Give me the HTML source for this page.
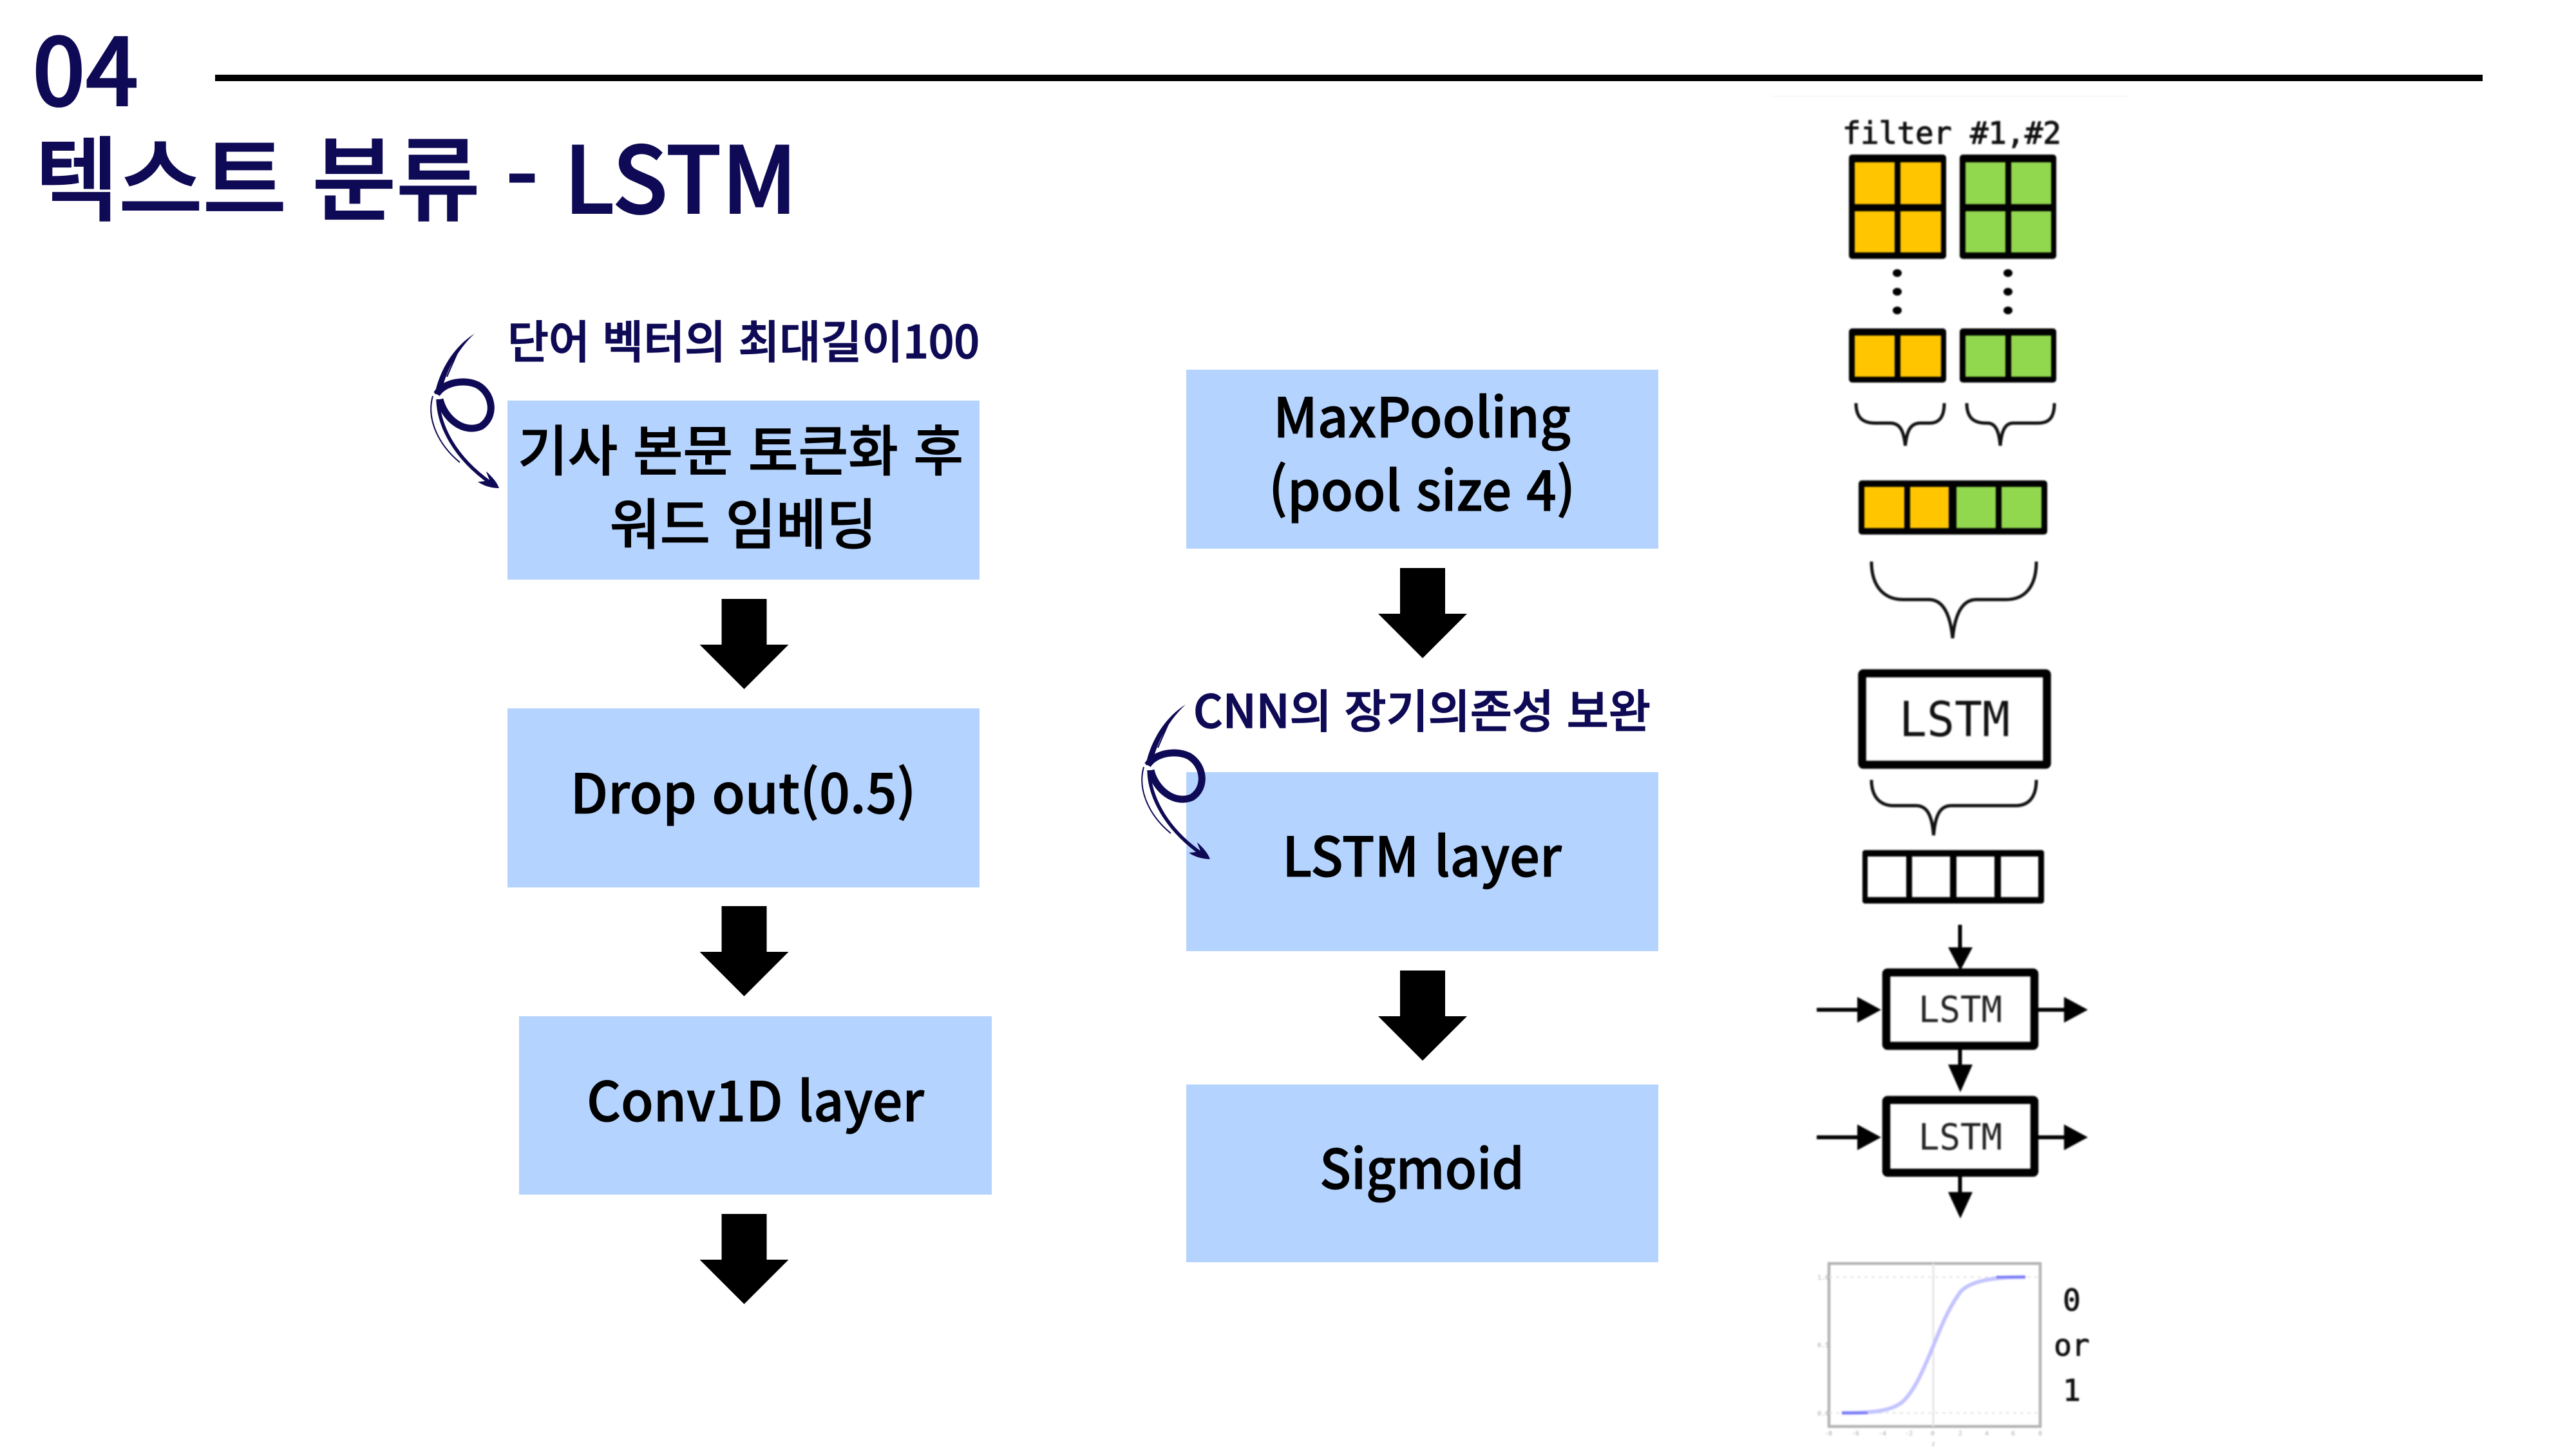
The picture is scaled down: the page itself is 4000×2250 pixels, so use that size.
<!DOCTYPE html>
<html lang="ko"><head><meta charset="utf-8"><style>
html,body{margin:0;padding:0;background:#fff}
svg{display:block;position:absolute;left:0;top:0}
.k{font-family:"Noto Sans CJK KR","Liberation Sans",sans-serif;font-weight:500}
.m{font-family:"DejaVu Sans Mono","Liberation Mono",monospace}
.n{fill:#0f0a55}
.t{stroke:#0f0a55;stroke-width:2px}
.a{stroke:#0f0a55;stroke-width:1.4px}
.b{font-size:85px;text-anchor:middle;fill:#000;stroke:#000;stroke-width:1px}
.y{fill:#ffc600}.g{fill:#92d84f}
.br{fill:none;stroke:#111;stroke-width:5}
</style></head><body style="width:4000px;height:2250px;overflow:hidden;position:relative">
<svg width="4000" height="2250" viewBox="0 0 4000 2250" xmlns="http://www.w3.org/2000/svg">
<defs>
<g id="curl">
<path class="n" d="M737,518C702,540 682,578 675,612L685,612C690,582 708,545 737,518Z"/>
<path d="M678,612C690,593 722,588 742,598C766,612 770,647 747,662C720,674 690,650 683,620" fill="none" stroke="#0f0a55" stroke-width="11"/>
<path d="M680,620C681,660 705,710 762,750" fill="none" stroke="#0f0a55" stroke-width="5.5"/>
<path d="M672,615C662,650 680,690 714,718M714,539C705,560 698,575 694,585" fill="none" stroke="#0f0a55" stroke-width="2"/>
<path class="n" d="M755,732C766,742 772,750 775,758C762,758 750,754 742,748C750,748 756,746 760,745C758,740 756,736 755,732Z"/>
</g>
<path id="da" d="M-35,0H35V71H69L0,140L-69,71H-35Z"/>
</defs>
<text class="k n t" x="50" y="164" font-size="145">04</text>
<rect x="334" y="116" width="3521" height="10" fill="#000"/>
<text class="k n t" x="54" y="331" font-size="143" textLength="1184" lengthAdjust="spacingAndGlyphs">텍스트 분류 - LSTM</text>

<g fill="#b4d3fe">
<rect x="788" y="622" width="733" height="278"/>
<rect x="788" y="1100" width="733" height="278"/>
<rect x="806" y="1578" width="734" height="277"/>
<rect x="1842" y="574" width="733" height="278"/>
<rect x="1842" y="1199" width="733" height="278"/>
<rect x="1842" y="1684" width="733" height="276"/>
</g>
<g class="k">
<text class="b" x="1150" y="731" textLength="692" lengthAdjust="spacingAndGlyphs">기사 본문 토큰화 후</text>
<text class="b" x="1154" y="845">워드 임베딩</text>
<text class="b" x="1154" y="1263" textLength="537" lengthAdjust="spacingAndGlyphs">Drop out(0.5)</text>
<text class="b" x="1173" y="1741" textLength="524" lengthAdjust="spacingAndGlyphs">Conv1D layer</text>
<text class="b" x="2208" y="679" textLength="462" lengthAdjust="spacingAndGlyphs">MaxPooling</text>
<text class="b" x="2208" y="793" textLength="476" lengthAdjust="spacingAndGlyphs">(pool size 4)</text>
<text class="b" x="2208" y="1361" textLength="434" lengthAdjust="spacingAndGlyphs">LSTM layer</text>
<text class="b" x="2208" y="1846" textLength="318" lengthAdjust="spacingAndGlyphs">Sigmoid</text>
<text class="n a" x="788" y="556" font-size="70" textLength="733" lengthAdjust="spacingAndGlyphs">단어 벡터의 최대길이100</text>
<text class="n a" x="1853" y="1130" font-size="71" textLength="710" lengthAdjust="spacingAndGlyphs">CNN의 장기의존성 보완</text>
</g>
<use href="#da" transform="translate(1155.5,930)"/>
<use href="#da" transform="translate(1155.5,1407)"/>
<use href="#da" transform="translate(1155.5,1885)"/>
<use href="#da" transform="translate(2209,882)"/>
<use href="#da" transform="translate(2209,1507)"/>
<use href="#curl"/>
<use href="#curl" transform="translate(1104,576)"/>

<rect x="2750" y="148" width="555" height="3" fill="#fafafa"/>
<g style="filter:blur(1.1px)">
<text class="m" x="2861" y="223" font-size="47" fill="#111" stroke="#111" stroke-width="1.2">filter #1,#2</text>
<rect x="2871" y="240" width="151" height="162" rx="5"/>
<rect x="3043" y="240" width="150" height="162" rx="5"/>
<g class="y"><rect x="2880" y="252" width="62" height="65"/><rect x="2951" y="252" width="63" height="65"/><rect x="2880" y="328" width="62" height="64"/><rect x="2951" y="328" width="63" height="64"/></g>
<g class="g"><rect x="3052" y="252" width="62" height="65"/><rect x="3123" y="252" width="62" height="65"/><rect x="3052" y="328" width="62" height="64"/><rect x="3123" y="328" width="62" height="64"/></g>
<g>
<ellipse cx="2946" cy="424" rx="7" ry="6"/><ellipse cx="2946" cy="453" rx="7" ry="6"/><ellipse cx="2946" cy="482" rx="7" ry="6"/>
<ellipse cx="3118" cy="424" rx="7" ry="6"/><ellipse cx="3118" cy="453" rx="7" ry="6"/><ellipse cx="3118" cy="482" rx="7" ry="6"/>
</g>
<rect x="2871" y="510" width="151" height="84" rx="5"/>
<rect x="3043" y="510" width="150" height="84" rx="5"/>
<g class="y"><rect x="2880" y="521" width="62" height="64"/><rect x="2951" y="521" width="63" height="64"/></g>
<g class="g"><rect x="3052" y="521" width="62" height="64"/><rect x="3123" y="521" width="62" height="64"/></g>
<path class="br" d="M2882,626C2882,648 2892,657 2912,657H2935C2950,657 2956,668 2958.5,692C2961,668 2967,657 2982,657H2996C3011,657 3019,648 3019,626"/>
<path class="br" d="M3054,626C3054,648 3064,657 3084,657H3086C3098,657 3104,668 3106,692C3108,668 3114,657 3126,657H3165C3182,657 3190,648 3190,626"/>
<rect x="2886" y="746" width="293" height="84" rx="5"/>
<g class="y"><rect x="2895" y="756" width="62" height="64"/><rect x="2966" y="756" width="60" height="64"/></g>
<g class="g"><rect x="3038" y="756" width="61" height="64"/><rect x="3108" y="756" width="62" height="64"/></g>
<path class="br" d="M2906,872C2906,910 2925,931 2955,931H2995C3015,931 3028,950 3032,991C3036,950 3049,931 3069,931H3115C3145,931 3162,910 3162,872"/>

<rect x="2891.5" y="1045.5" width="287" height="142" rx="2" fill="#fff" stroke="#000" stroke-width="12.5"/>
<text class="m" x="3035" y="1143" font-size="75" text-anchor="middle" fill="#111" textLength="172" lengthAdjust="spacingAndGlyphs">LSTM</text>
<path class="br" d="M2906,1211C2906,1238 2920,1251 2940,1251H2975C2992,1251 3000,1265 3002.5,1297C3005,1265 3013,1251 3030,1251H3130C3150,1251 3162,1238 3162,1211"/>
<rect x="2892" y="1320" width="282" height="83" rx="4"/>
<g fill="#fff"><rect x="2900" y="1330" width="60" height="63"/><rect x="2969" y="1330" width="59" height="63"/><rect x="3038" y="1330" width="59" height="63"/><rect x="3107" y="1330" width="58" height="63"/></g>

<rect x="3040.5" y="1436" width="6" height="50"/><path d="M3025,1471H3063L3044,1507Z"/>
<rect x="2929" y="1510" width="230" height="114" rx="2" fill="#fff" stroke="#000" stroke-width="12.5"/>
<text class="m" x="3044" y="1587" font-size="56" text-anchor="middle" fill="#222" textLength="130" lengthAdjust="spacingAndGlyphs">LSTM</text>
<rect x="2821" y="1565" width="64" height="6"/><path d="M2884,1548V1588L2921,1568Z"/>
<rect x="3165" y="1565" width="42" height="6"/><path d="M3205,1548V1588L3242,1568Z"/>
<rect x="3040.5" y="1630" width="6" height="30"/><path d="M3025,1653H3063L3044,1696Z"/>
<rect x="2929" y="1708" width="230" height="113" rx="2" fill="#fff" stroke="#000" stroke-width="12.5"/>
<text class="m" x="3044" y="1785" font-size="56" text-anchor="middle" fill="#222" textLength="130" lengthAdjust="spacingAndGlyphs">LSTM</text>
<rect x="2821" y="1763" width="64" height="6"/><path d="M2884,1746V1786L2921,1766Z"/>
<rect x="3165" y="1763" width="42" height="6"/><path d="M3205,1746V1786L3242,1766Z"/>
<rect x="3040.5" y="1827" width="6" height="30"/><path d="M3025,1851H3063L3044,1892Z"/>

<rect x="2840" y="1962" width="328" height="253" fill="#fff" stroke="#b4b4b4" stroke-width="4.5"/>
<path d="M3002,1962V2215" stroke="#e6e6e6" stroke-width="3"/>
<path d="M2840,1983H3168M2840,2194H3168" stroke="#e2e2e2" stroke-width="2" stroke-dasharray="5 6"/>
<path d="M2860,2194C2905,2194 2935,2192 2954,2177C2975,2158 2990,2118 3002,2090C3014,2060 3026,2030 3045,2005C3060,1990 3090,1983 3145,1983" fill="none" stroke="#c4c4ff" stroke-width="6"/>
<path d="M2860,2194H2900M3100,1983H3145" stroke="#7c7cf6" stroke-width="4"/>
<g font-size="10" fill="#aaa" class="m">
<text x="2822" y="1987">1.0</text><text x="2822" y="2092">0.5</text><text x="2822" y="2198">0.0</text>
<text x="2833" y="2229">-8</text><text x="2875" y="2229">-6</text><text x="2917" y="2229">-4</text><text x="2958" y="2229">-2</text><text x="2998" y="2229">0</text><text x="3041" y="2229">2</text><text x="3082" y="2229">4</text><text x="3123" y="2229">6</text><text x="3165" y="2229">8</text><text x="2999" y="2245">z</text>
</g>
<g class="m" font-size="46" text-anchor="middle" fill="#111" stroke="#111" stroke-width="1">
<text x="3217" y="2035">0</text><text x="3217" y="2105">or</text><text x="3217" y="2175">1</text>
</g>
</g>
</svg>
</body></html>
